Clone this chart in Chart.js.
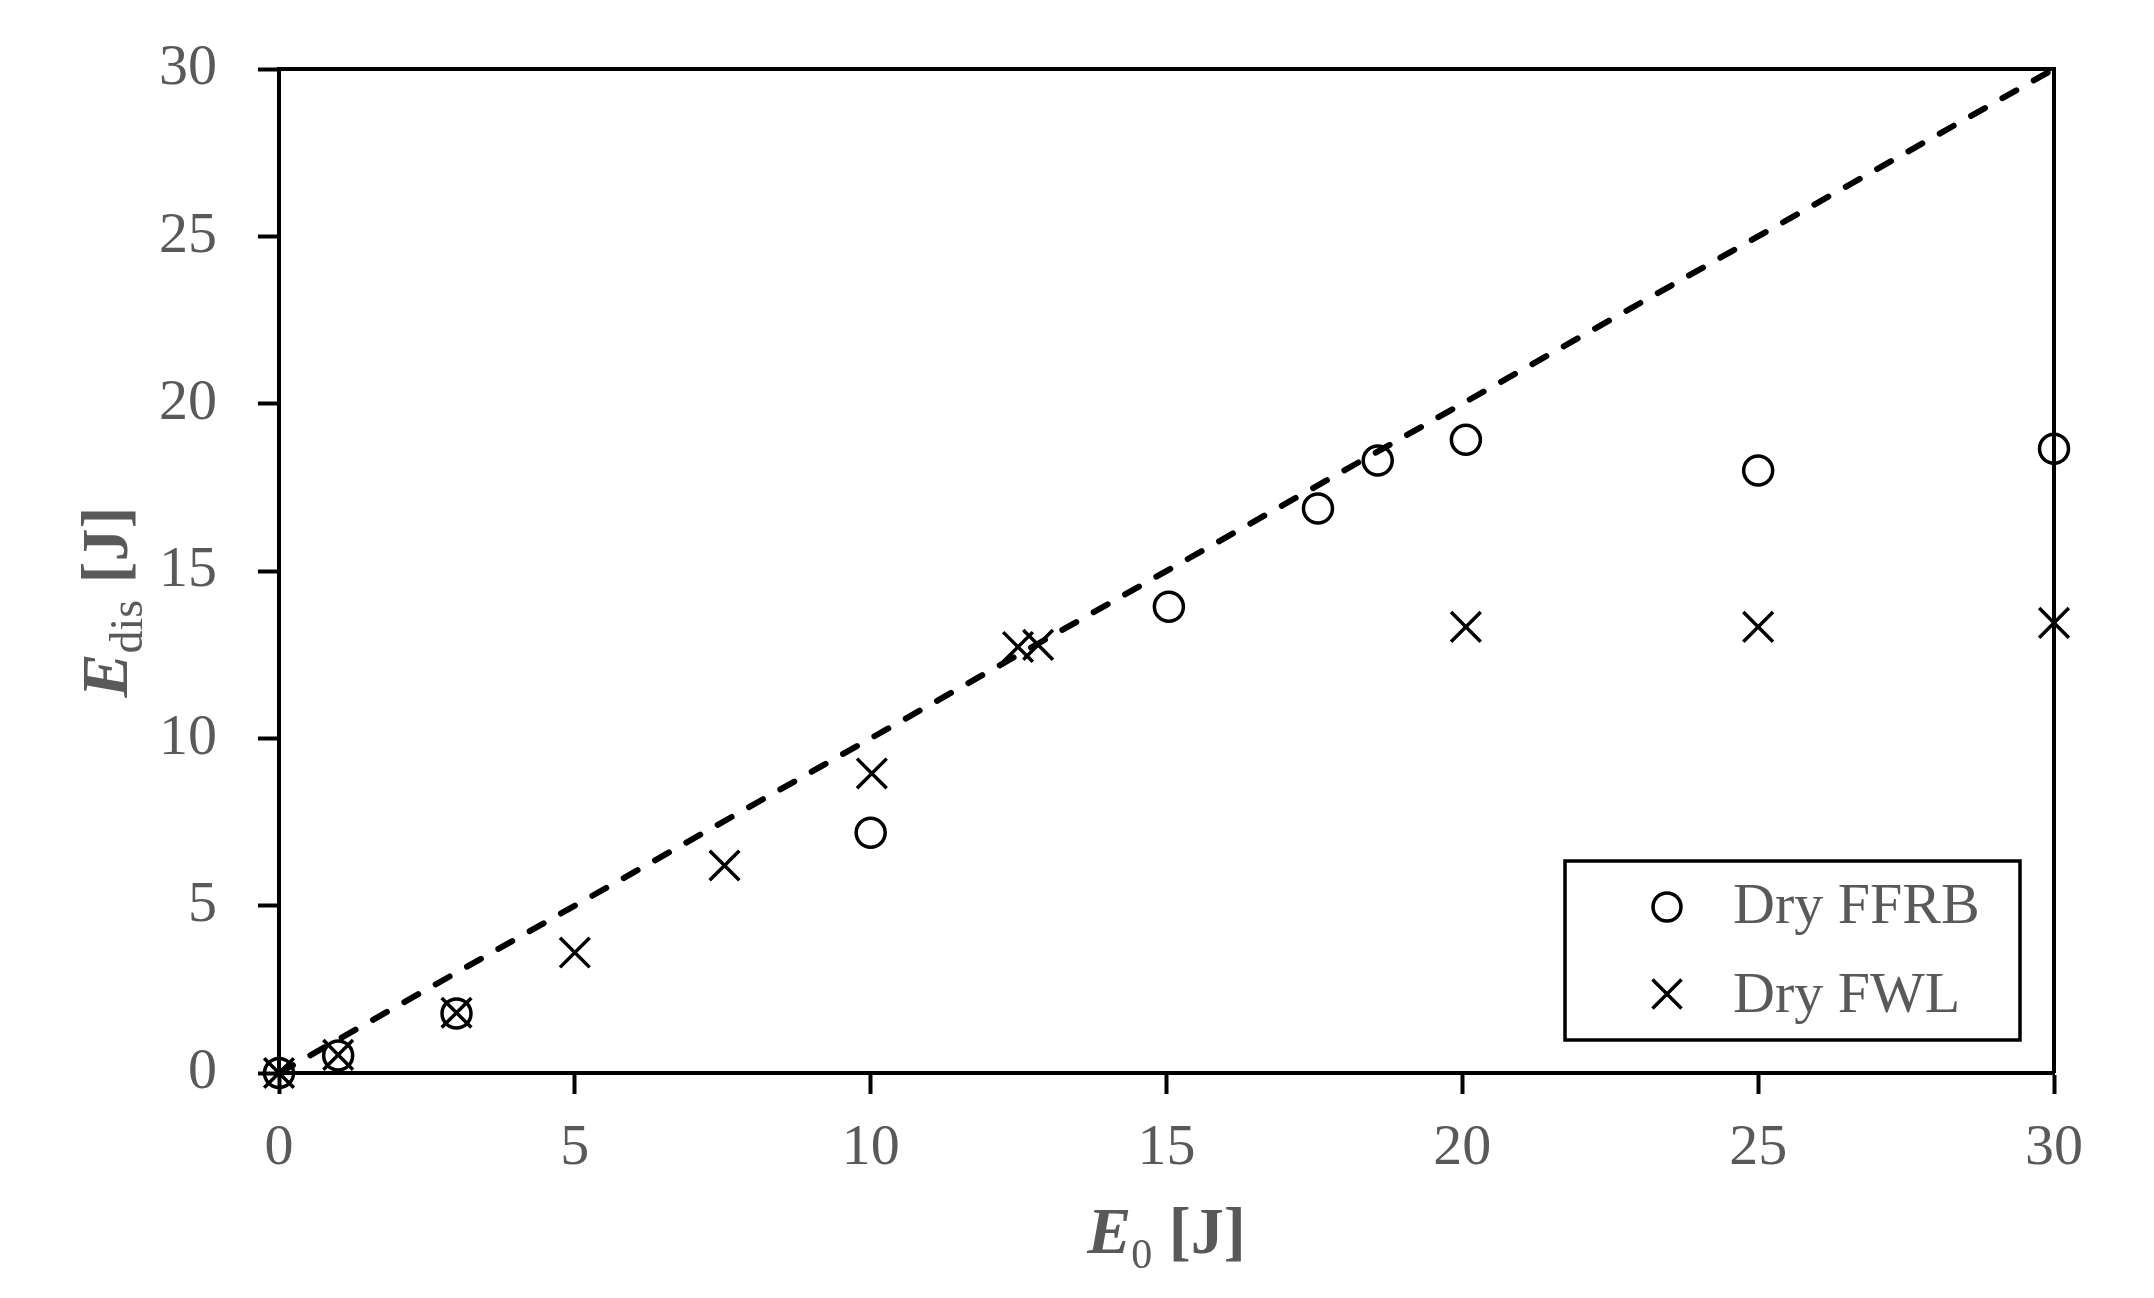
<!DOCTYPE html>
<html>
<head>
<meta charset="utf-8">
<script src="https://cdn.jsdelivr.net/npm/chart.js@4.4.1/dist/chart.umd.min.js"></script>
<style>
  html, body { margin: 0; padding: 0; background: #ffffff; }
  #wrap { width: 2154px; height: 1298px; }
</style>
</head>
<body>
<div id="wrap"><canvas id="c" width="2154" height="1298"></canvas></div>
<script>
// ---- Data ----
const ffrbLabel = 'Dry FFRB';
const ffrbX = [0, 1, 3, 10, 15.04, 17.56, 18.57, 20.06, 25, 30];
const ffrbY = [0, 0.52, 1.78, 7.18, 13.93, 16.87, 18.3, 18.92, 18.0, 18.65];

const fwlLabel = 'Dry FWL';
const fwlX = [0, 1, 3, 5, 7.53, 10.02, 12.49, 12.83, 20.06, 25, 30];
const fwlY = [0, 0.54, 1.8, 3.6, 6.2, 8.95, 12.73, 12.79, 13.33, 13.33, 13.45];

const refLineX = [0, 30];
const refLineY = [0, 30];

const xTicks = [0, 5, 10, 15, 20, 25, 30];
const yTicks = [0, 5, 10, 15, 20, 25, 30];

const toPts = (xs, ys) => xs.map((x, i) => ({ x: x, y: ys[i] }));

const FONT = "'Liberation Serif', 'DejaVu Serif', serif";
const GREY = '#595959';

// Frame + custom axis titles + legend
const decor = {
  id: 'decor',
  afterDraw(chart) {
    const ctx = chart.ctx;
    const a = chart.chartArea;
    ctx.save();
    // frame (top & right)
    ctx.strokeStyle = '#000';
    ctx.lineWidth = 4;
    ctx.beginPath();
    ctx.moveTo(a.left, a.top);
    ctx.lineTo(a.right, a.top);
    ctx.lineTo(a.right, a.bottom);
    ctx.stroke();

    // rich-text titles
    function rich(parts) {
      let w = 0;
      parts.forEach(p => { ctx.font = p.font; p.w = ctx.measureText(p.t).width; w += p.w; });
      return w;
    }
    function drawRich(parts, startX, baseY) {
      let x = startX;
      parts.forEach(p => {
        ctx.font = p.font;
        ctx.fillText(p.t, x, baseY + (p.dy || 0));
        x += p.w;
      });
    }
    ctx.fillStyle = GREY;
    ctx.textBaseline = 'alphabetic';
    ctx.textAlign = 'left';
    const xParts = [
      { t: 'E', font: 'italic bold 66px ' + FONT },
      { t: '0', font: '42px ' + FONT, dy: 15 },
      { t: ' [J]', font: 'bold 66px ' + FONT }
    ];
    const xw = rich(xParts);
    drawRich(xParts, (a.left + a.right) / 2 - xw / 2, a.bottom + 180);

    const yParts = [
      { t: 'E', font: 'italic bold 66px ' + FONT },
      { t: 'dis', font: '46px ' + FONT, dy: 15 },
      { t: ' [J]', font: 'bold 66px ' + FONT }
    ];
    const yw = rich(yParts);
    ctx.save();
    ctx.translate(a.left - 152, (a.top + a.bottom) / 2 + 31);
    ctx.rotate(-Math.PI / 2);
    drawRich(yParts, -yw / 2, 0);
    ctx.restore();

    // legend
    const bw = 455, bh = 179;
    const bx = a.right - 34 - bw, by = a.bottom - 33 - bh;
    ctx.fillStyle = '#fff';
    ctx.fillRect(bx, by, bw, bh);
    ctx.strokeStyle = '#000';
    ctx.lineWidth = 3.5;
    ctx.strokeRect(bx, by, bw, bh);
    const items = chart.data.datasets.filter(d => d.inLegend);
    items.forEach((d, i) => {
      const my = by + 46 + i * 87;
      const mx = bx + 102;
      ctx.strokeStyle = '#000';
      ctx.lineWidth = 3.5;
      ctx.beginPath();
      if (d.pointStyle === 'circle') {
        ctx.arc(mx, my, 14, 0, Math.PI * 2);
      } else {
        const r = 14.5;
        ctx.moveTo(mx - r, my - r); ctx.lineTo(mx + r, my + r);
        ctx.moveTo(mx + r, my - r); ctx.lineTo(mx - r, my + r);
      }
      ctx.stroke();
      ctx.fillStyle = GREY;
      ctx.font = '58px ' + FONT;
      ctx.textAlign = 'left';
      ctx.textBaseline = 'alphabetic';
      ctx.fillText(d.label, bx + 168, by + 62 + i * 89);
    });
    ctx.restore();
  }
};

new Chart(document.getElementById('c'), {
  type: 'scatter',
  data: {
    datasets: [
      {
        label: ffrbLabel,
        inLegend: true,
        data: toPts(ffrbX, ffrbY),
        pointStyle: 'circle',
        pointRadius: 14.5,
        pointBorderWidth: 3.5,
        borderColor: '#000',
        backgroundColor: 'rgba(0,0,0,0)',
        pointBackgroundColor: 'rgba(0,0,0,0)',
        clip: false,
        order: 2
      },
      {
        label: fwlLabel,
        inLegend: true,
        data: toPts(fwlX, fwlY),
        pointStyle: 'crossRot',
        pointRadius: 21,
        pointBorderWidth: 3.5,
        borderColor: '#000',
        backgroundColor: '#000',
        clip: false,
        order: 3
      },
      {
        type: 'line',
        label: 'y = x',
        inLegend: false,
        data: toPts(refLineX, refLineY),
        borderColor: '#000',
        borderWidth: 6,
        borderDash: [16, 20],
        borderCapStyle: 'round',
        pointRadius: 0,
        fill: false,
        showLine: true,
        order: 1
      }
    ]
  },
  options: {
    responsive: false,
    animation: false,
    devicePixelRatio: 1,
    layout: { padding: { top: 69, right: 100, left: 0, bottom: 0 } },
    plugins: {
      legend: { display: false },
      tooltip: { enabled: false },
      title: { display: false }
    },
    scales: {
      x: {
        type: 'linear',
        min: 0, max: 30,
        afterFit(scale) { scale.height = 225; scale.paddingLeft = 0; scale.paddingRight = 0; },
        afterBuildTicks(scale) { scale.ticks = xTicks.map(v => ({ value: v })); },
        border: { display: true, color: '#000', width: 4 },
        grid: { display: true, drawOnChartArea: false, drawTicks: true, tickLength: 21, tickWidth: 4, tickColor: '#000', color: '#000' },
        ticks: { color: GREY, font: { family: FONT, size: 58 }, padding: 20 },
        title: { display: false }
      },
      y: {
        type: 'linear',
        min: 0, max: 30,
        afterFit(scale) { scale.width = 279; scale.paddingTop = 0; scale.paddingBottom = 0; },
        afterBuildTicks(scale) { scale.ticks = yTicks.map(v => ({ value: v })); },
        border: { display: true, color: '#000', width: 4 },
        grid: { display: true, drawOnChartArea: false, drawTicks: true, tickLength: 21, tickWidth: 4, tickColor: '#000', color: '#000' },
        ticks: { color: GREY, font: { family: FONT, size: 58 }, padding: 41 },
        title: { display: false }
      }
    }
  },
  plugins: [decor]
});
</script>
</body>
</html>
